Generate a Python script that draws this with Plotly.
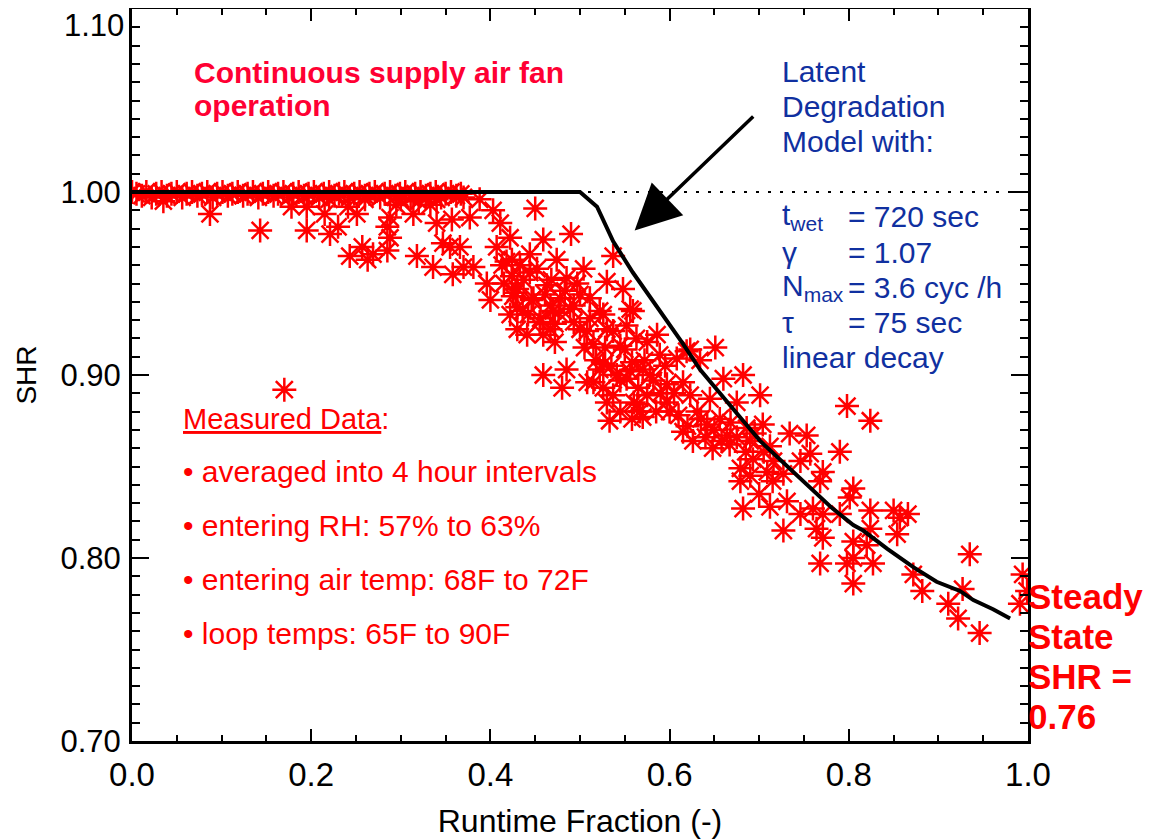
import plotly.graph_objects as go

# ---------------- data ----------------
# Latent degradation model curve
model_x = [0.0, 0.5, 0.519, 0.537, 0.559, 0.575, 0.600, 0.615, 0.634, 0.664, 0.682, 0.701,
           0.723, 0.734, 0.757, 0.782, 0.805, 0.816, 0.843, 0.872, 0.898, 0.924, 0.939, 0.961, 0.980]
model_y = [1.0, 1.0, 0.992, 0.973, 0.956, 0.945, 0.927, 0.917, 0.903, 0.885, 0.875, 0.864,
           0.854, 0.849, 0.838, 0.827, 0.818, 0.815, 0.805, 0.795, 0.787, 0.782, 0.777, 0.772, 0.767]

# reference line at SHR = 1
ref_x = [0.0, 1.0]
ref_y = [1.0, 1.0]

# measured data: band at SHR ~ 1
band_x = [0.000, 0.005, 0.011, 0.016, 0.022, 0.027, 0.033, 0.039, 0.044, 0.050, 0.056, 0.061,
          0.067, 0.073, 0.078, 0.084, 0.090, 0.095, 0.101, 0.107, 0.112, 0.118, 0.124, 0.129,
          0.135, 0.141, 0.146, 0.152, 0.158, 0.163, 0.169, 0.175, 0.180, 0.186, 0.192, 0.197,
          0.203, 0.209, 0.214, 0.220, 0.226, 0.231, 0.237, 0.243, 0.248, 0.254, 0.260, 0.265,
          0.271, 0.277, 0.282, 0.288, 0.294, 0.299, 0.305, 0.311, 0.316, 0.322, 0.328, 0.333,
          0.339, 0.345, 0.350, 0.356, 0.362, 0.367, 0.220, 0.260, 0.300, 0.320, 0.340]
band_y = [1.000, 0.999, 0.998, 1.000, 0.997, 0.999, 1.000, 0.998, 0.999, 1.000, 0.997, 0.999,
          1.000, 0.998, 0.999, 1.000, 0.997, 0.999, 1.000, 0.998, 0.999, 1.000, 0.998, 0.999,
          1.000, 0.997, 0.999, 1.000, 0.998, 0.999, 1.000, 0.997, 0.999, 1.000, 0.998, 0.999,
          1.000, 0.997, 0.999, 1.000, 0.998, 0.999, 1.000, 0.997, 0.999, 1.000, 0.998, 0.999,
          1.000, 0.997, 0.999, 1.000, 0.998, 0.999, 1.000, 0.997, 0.999, 1.000, 0.998, 0.999,
          1.000, 0.997, 0.999, 1.000, 0.998, 0.999, 0.996, 0.996, 0.996, 0.995, 0.996]

# measured data: scattered points
meas_x = [0.035, 0.087, 0.143, 0.178, 0.195, 0.195, 0.170,
          0.215, 0.221, 0.230, 0.243, 0.241, 0.251, 0.257, 0.263, 0.269, 0.285, 0.285, 0.288,
          0.288, 0.295, 0.314, 0.318, 0.333, 0.336, 0.340, 0.347, 0.355, 0.357, 0.358, 0.366,
          0.370, 0.370, 0.377, 0.381, 0.388, 0.396, 0.400, 0.403, 0.407, 0.411, 0.413, 0.422,
          0.424, 0.425, 0.430, 0.424, 0.450,
          0.433, 0.441, 0.442, 0.444, 0.459, 0.463, 0.467, 0.470, 0.472, 0.474, 0.478, 0.490,
          0.485, 0.493, 0.500, 0.504, 0.508, 0.511, 0.515, 0.522, 0.530, 0.530, 0.537, 0.537,
          0.548, 0.550, 0.552, 0.556, 0.558, 0.559, 0.563,
          0.459, 0.485, 0.480, 0.515, 0.522, 0.526, 0.537, 0.541, 0.530, 0.533, 0.545, 0.558,
          0.564, 0.552,
          0.430, 0.436, 0.455, 0.448, 0.467, 0.422, 0.430, 0.459, 0.493, 0.500, 0.511,
          0.526, 0.545, 0.508, 0.526,
          0.586, 0.623, 0.651, 0.570, 0.589, 0.608, 0.634, 0.578, 0.597, 0.615, 0.660, 0.682,
          0.701, 0.575, 0.597, 0.623, 0.645, 0.675, 0.567, 0.600, 0.615, 0.631, 0.642, 0.656,
          0.664, 0.686, 0.704, 0.626, 0.648, 0.667, 0.690, 0.693, 0.679, 0.679, 0.709, 0.716,
          0.575, 0.619, 0.712,
          0.798, 0.824, 0.734, 0.753, 0.757, 0.790, 0.727, 0.746, 0.771, 0.768, 0.805, 0.801,
          0.682, 0.712, 0.731, 0.746, 0.760, 0.790, 0.824, 0.727, 0.764, 0.771, 0.805, 0.820,
          0.824, 0.768, 0.798, 0.805, 0.827, 0.805, 0.771,
          0.850, 0.857, 0.866, 0.854, 0.935, 0.872, 0.882, 0.927, 0.911, 0.922, 0.946, 0.994,
          0.991, 0.999,
          0.415, 0.428, 0.437, 0.446, 0.452, 0.461, 0.468, 0.476, 0.483, 0.489, 0.497, 0.418,
          0.444, 0.456, 0.472,
          0.505, 0.518, 0.528, 0.535, 0.545, 0.556, 0.565, 0.572, 0.582, 0.590, 0.560, 0.570,
          0.585, 0.595, 0.605,
          0.610, 0.620, 0.635, 0.640, 0.650, 0.658, 0.668, 0.675, 0.685, 0.695, 0.705, 0.715,
          0.700, 0.690]
meas_y = [0.995, 0.988, 0.979, 0.992, 0.992, 0.979, 0.892,
          0.988, 0.977, 0.981, 0.965, 0.992, 0.988, 0.970, 0.963, 0.966, 0.981, 0.968, 0.986,
          0.975, 0.993, 0.988, 0.965, 0.993, 0.959, 0.983, 0.972, 0.970, 0.985, 0.955, 0.970,
          0.959, 0.997, 0.986, 0.959, 0.996, 0.950, 0.941, 0.990, 0.970, 0.983, 0.960, 0.975,
          0.954, 0.943, 0.937, 0.963, 0.991,
          0.960, 0.922, 0.933, 0.956, 0.974, 0.949, 0.925, 0.935, 0.918, 0.963, 0.942, 0.977,
          0.953, 0.929, 0.944, 0.958, 0.924, 0.942, 0.917, 0.935, 0.951, 0.925, 0.965, 0.924,
          0.947, 0.914, 0.927, 0.936, 0.907, 0.935, 0.920,
          0.900, 0.903, 0.893, 0.896, 0.903, 0.893, 0.889, 0.900, 0.885, 0.875, 0.880, 0.876,
          0.884, 0.898,
          0.947, 0.935, 0.929, 0.942, 0.938, 0.933, 0.925, 0.922, 0.938, 0.925, 0.931,
          0.906, 0.916, 0.896, 0.933,
          0.922, 0.914, 0.915, 0.903, 0.911, 0.909, 0.908, 0.900, 0.895, 0.896, 0.898, 0.900,
          0.889, 0.889, 0.885, 0.889, 0.887, 0.885, 0.880, 0.880, 0.869, 0.880, 0.873, 0.876,
          0.867, 0.871, 0.873, 0.864, 0.860, 0.862, 0.864, 0.854, 0.849, 0.842, 0.847, 0.853,
          0.918, 0.913, 0.861,
          0.883, 0.875, 0.868, 0.867, 0.857, 0.858, 0.846, 0.853, 0.847, 0.842, 0.838, 0.833,
          0.827, 0.828, 0.831, 0.824, 0.827, 0.824, 0.826, 0.815, 0.816, 0.811, 0.809, 0.807,
          0.816, 0.797, 0.797, 0.800, 0.797, 0.786, 0.824,
          0.826, 0.822, 0.824, 0.813, 0.802, 0.791, 0.782, 0.783, 0.775, 0.767, 0.759, 0.791,
          0.775, 0.782,
          0.950, 0.945, 0.952, 0.941, 0.958, 0.944, 0.952, 0.934, 0.946, 0.936, 0.950, 0.962,
          0.966, 0.931, 0.928,
          0.915, 0.908, 0.915, 0.905, 0.897, 0.902, 0.893, 0.908, 0.897, 0.890, 0.885, 0.877,
          0.880, 0.905, 0.890,
          0.878, 0.872, 0.876, 0.866, 0.870, 0.864, 0.874, 0.866, 0.858, 0.868, 0.858, 0.842,
          0.835, 0.845]

x_tickvals = [0.0, 0.2, 0.4, 0.6, 0.8, 1.0]
x_ticktext = ["0.0", "0.2", "0.4", "0.6", "0.8", "1.0"]
y_tickvals = [0.7, 0.8, 0.9, 1.0, 1.1]
y_ticktext = ["0.70", "0.80", "0.90", "1.00", ""]

param_labels = ["t<sub>wet</sub>", "γ", "N<sub>max</sub>", "τ", "linear decay"]
param_values = ["= 720 sec", "= 1.07", "= 3.6 cyc /h", "= 75 sec", ""]
model_title = ["Latent", "Degradation", "Model with:"]
fan_title = ["Continuous supply air fan", "operation"]
bullets = ["• averaged into 4 hour intervals", "• entering RH: 57% to 63%",
           "• entering air temp: 68F to 72F", "• loop temps: 65F to 90F"]
steady_lines = ["Steady", "State", "SHR =", "0.76"]

# ---------------- styling ----------------
FONT = "Arial, Liberation Sans, Helvetica, sans-serif"
RED = "#FF0000"
PINKRED = "#FF0033"
BLUE = "#1030A0"

fig = go.Figure()

fig.add_trace(go.Scatter(x=ref_x, y=ref_y, mode="lines",
                         line=dict(color="black", width=2, dash="3px,9px"),
                         hoverinfo="skip", showlegend=False))

marker = dict(symbol="asterisk-open", size=20, color=RED,
              line=dict(color=RED, width=2.5))
fig.add_trace(go.Scatter(x=band_x, y=band_y, mode="markers", marker=marker,
                         showlegend=False, cliponaxis=True))
fig.add_trace(go.Scatter(x=meas_x, y=meas_y, mode="markers", marker=marker,
                         showlegend=False, cliponaxis=True))

fig.add_trace(go.Scatter(x=model_x, y=model_y, mode="lines",
                         line=dict(color="black", width=4),
                         showlegend=False))

# ---------------- annotations ----------------
ann = []
def ypix(py):
    return 1.0 - (py - 190.0) / 1833.0
def xpix(px):
    return (px - 132.0) / 896.0

# tick label 1.10 (drawn inside the canvas, below its tick, as in the original)
ann.append(dict(x=0, y=1.1, xref="x", yref="y", text="1.10", showarrow=False,
                xanchor="right", yanchor="top", xshift=-6, yshift=3,
                font=dict(family=FONT, size=31, color="black")))

for i, t in enumerate(fan_title):
    ann.append(dict(x=xpix(192), y=ypix(70 + 33 * i), xref="x", yref="y", text="<b>%s</b>" % t,
                    showarrow=False, xanchor="left", yanchor="middle",
                    font=dict(family=FONT, size=30, color=PINKRED)))

for i, t in enumerate(model_title):
    ann.append(dict(x=xpix(780), y=ypix(69 + 35 * i), xref="x", yref="y", text=t,
                    showarrow=False, xanchor="left", yanchor="middle",
                    font=dict(family=FONT, size=30, color=BLUE)))

for i, (lab, val) in enumerate(zip(param_labels, param_values)):
    yy = ypix(215 + 35.3 * i)
    ann.append(dict(x=xpix(780), y=yy, xref="x", yref="y", text=lab,
                    showarrow=False, xanchor="left", yanchor="middle",
                    font=dict(family=FONT, size=30, color=BLUE)))
    if val:
        ann.append(dict(x=xpix(846), y=yy, xref="x", yref="y", text=val,
                        showarrow=False, xanchor="left", yanchor="middle",
                        font=dict(family=FONT, size=30, color=BLUE)))

ann.append(dict(x=xpix(181), y=ypix(417), xref="x", yref="y",
                text="<u>Measured Data</u>:", showarrow=False,
                xanchor="left", yanchor="middle",
                font=dict(family=FONT, size=29, color=RED)))
for i, t in enumerate(bullets):
    ann.append(dict(x=xpix(181), y=ypix(470 + 54 * i), xref="x", yref="y", text=t,
                    showarrow=False, xanchor="left", yanchor="middle",
                    font=dict(family=FONT, size=30, color=RED)))

for i, t in enumerate(steady_lines):
    ann.append(dict(x=xpix(1026), y=ypix(595 + 40 * i), xref="paper", yref="y",
                    text="<b>%s</b>" % t, showarrow=False,
                    xanchor="left", yanchor="middle",
                    font=dict(family=FONT, size=35, color=RED)))

# arrow pointing at the model curve
ann.append(dict(x=0.561, y=0.979, ax=0.695, ay=1.042, xref="x", yref="y",
                axref="x", ayref="y", text="", showarrow=True,
                arrowhead=2, arrowsize=2.6, arrowwidth=3.5, arrowcolor="black",
                standoff=0))

axis_common = dict(showline=True, linecolor="black", linewidth=3, mirror="ticks",
                   ticks="inside", tickcolor="black", tickwidth=2, showgrid=False,
                   zeroline=False, automargin=False)

# the page body adds an 8 px offset; figure size and margins compensate for it
fig.update_layout(
    width=1168, height=831,
    margin=dict(l=124, r=148, t=1, b=98),
    paper_bgcolor="white", plot_bgcolor="white",
    annotations=ann,
    xaxis=dict(range=[0, 1], tickvals=x_tickvals, ticktext=x_ticktext, ticklen=12,
               minor=dict(dtick=0.05, ticklen=6, tickwidth=2, tickcolor="black", ticks="inside"),
               title=dict(text="Runtime Fraction (-)", standoff=20,
                          font=dict(family=FONT, size=32, color="black")),
               tickfont=dict(family=FONT, size=33, color="black"),
               ticklabelstandoff=2,
               **axis_common),
    yaxis=dict(range=[0.7, 1.1], tickvals=y_tickvals, ticktext=y_ticktext, ticklen=17,
               minor=dict(dtick=0.01, ticklen=8, tickwidth=2, tickcolor="black", ticks="inside"),
               title=dict(text="SHR", standoff=16,
                          font=dict(family=FONT, size=28, color="black")),
               tickfont=dict(family=FONT, size=31, color="black"),
               ticklabelstandoff=2,
               **axis_common),
    showlegend=False,
)

fig.write_html("out.html")
